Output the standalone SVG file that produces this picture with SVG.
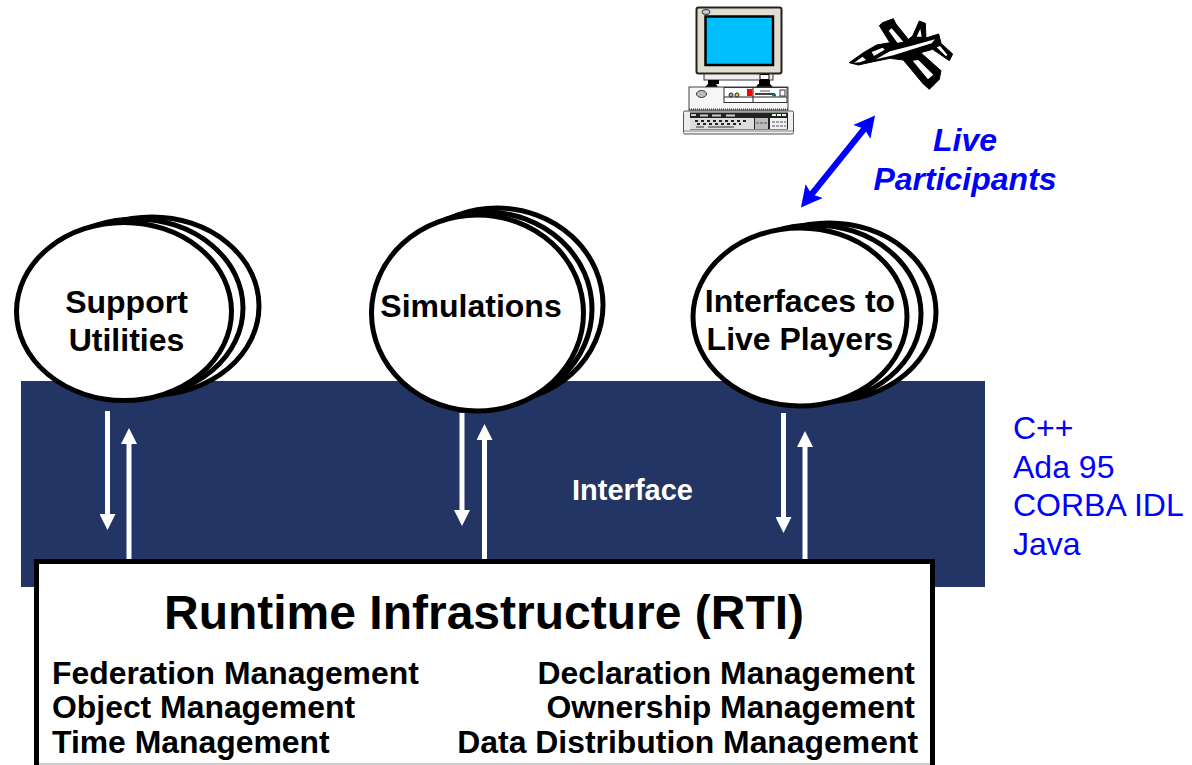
<svg xmlns="http://www.w3.org/2000/svg" width="1192" height="765" viewBox="0 0 1192 765">
<style>
text{font-family:"Liberation Sans",Arial,sans-serif}
.b{font-weight:700;fill:#000}
.e{fill:#fff;stroke:#000;stroke-width:5}
.w{stroke:#fff;stroke-width:5;fill:none}
.n{font-size:32px;text-anchor:middle}
.m{font-size:31.900px}
.l{font-size:32px;fill:#00f}
</style>
<defs>
<marker id="wh" markerUnits="userSpaceOnUse" markerWidth="16" markerHeight="16" refX="0" refY="8" orient="auto"><path d="M0 0L16 8L0 16Z" fill="#fff"/></marker>
<marker id="bl" markerUnits="userSpaceOnUse" markerWidth="22" markerHeight="24" refX="5" refY="12" orient="auto-start-reverse"><path d="M0 1L21 12L0 23L4 12Z" fill="#00f"/></marker>
</defs>
<rect width="1192" height="765" fill="#fff"/>
<g id="interface"><rect x="21" y="381" width="964" height="206" fill="#233565"/><text x="632.500" y="500" font-size="29" font-weight="700" fill="#fff" text-anchor="middle">Interface</text></g>
<g id="connectors">
<path class="w" d="M107.500 411V514" marker-end="url(#wh)"/>
<path class="w" d="M129 562V444" marker-end="url(#wh)"/>
<path class="w" d="M462 413V510" marker-end="url(#wh)"/>
<path class="w" d="M484.500 562V440" marker-end="url(#wh)"/>
<path class="w" d="M783.500 413V517" marker-end="url(#wh)"/>
<path class="w" d="M805 562V447" marker-end="url(#wh)"/>
<path d="M811 195L865 128" stroke="#00f" stroke-width="6" fill="none" marker-start="url(#bl)" marker-end="url(#bl)"/>
</g>
<g id="support-utilities">
<ellipse class="e" cx="152" cy="306" rx="107" ry="89"/><ellipse class="e" cx="136" cy="308" rx="107" ry="89"/><ellipse class="e" cx="124" cy="311.500" rx="107.500" ry="89"/>
<text class="b n" x="126.500" y="313">Support</text><text class="b n" x="126.500" y="351">Utilities</text>
</g>
<g id="simulations">
<ellipse class="e" cx="497" cy="305" rx="106" ry="97"/><ellipse class="e" cx="486" cy="309" rx="106" ry="97"/><ellipse class="e" cx="477.500" cy="313" rx="106" ry="98"/>
<text class="b n" x="471" y="317">Simulations</text>
</g>
<g id="interfaces">
<ellipse class="e" cx="829" cy="312" rx="107" ry="89"/><ellipse class="e" cx="814" cy="314" rx="107" ry="89"/><ellipse class="e" cx="800" cy="317" rx="107" ry="89"/>
<text class="b n" x="800" y="312">Interfaces to</text><text class="b n" x="800" y="350">Live Players</text>
</g>
<g id="rti">
<rect x="36.500" y="561.500" width="896" height="212" fill="#fff" stroke="#000" stroke-width="5"/>
<path d="M39 764H930" stroke="#bbb" stroke-width="1.500"/>
<text x="484" y="629" font-size="48" font-weight="700" text-anchor="middle">Runtime Infrastructure (RTI)</text>
<text class="b m" x="52" y="684">Federation Management</text>
<text class="b m" x="52" y="718">Object Management</text>
<text class="b m" x="52" y="753">Time Management</text>
<text class="b m" x="915" y="684" text-anchor="end">Declaration Management</text>
<text class="b m" x="915" y="718" text-anchor="end">Ownership Management</text>
<text class="b m" x="918" y="753" text-anchor="end">Data Distribution Management</text>
</g>
<g id="languages">
<text class="l" x="1013" y="439">C++</text><text class="l" x="1013" y="478">Ada 95</text><text class="l" x="1013" y="516">CORBA IDL</text><text class="l" x="1013" y="555">Java</text>
</g>
<g id="live-label" font-weight="700" font-style="italic" font-size="32" fill="#00f" text-anchor="middle">
<text x="965" y="151">Live</text><text x="965" y="190">Participants</text>
</g>
<g id="computer">
<rect x="696.500" y="7.500" width="85" height="66" rx="2" fill="#e0dcd0" stroke="#222" stroke-width="2"/>
<rect x="705.500" y="16.500" width="67.500" height="48.500" fill="#00bfff" stroke="#000" stroke-width="2.500"/>
<ellipse cx="706" cy="12" rx="4" ry="2.500" fill="#ccc" stroke="#333"/>
<rect x="704" y="74" width="69" height="6" fill="#eee" stroke="#333"/>
<path d="M760 74.500h9v5h-9z" fill="#fff" stroke="#000"/>
<path d="M708 80h11v4h-3l2 3h-13l3-3zM770 80h-11v4h-1l-2 3h17l-3-3z" fill="#000"/>
<rect x="689" y="87" width="99" height="23" fill="#f6f6f6" stroke="#444"/>
<rect x="724" y="87.500" width="63" height="15" fill="#fff" stroke="#333"/>
<path d="M724 97H787M753 88V102" stroke="#222"/>
<ellipse cx="701.500" cy="94" rx="5" ry="3.500" fill="#bbb" stroke="#333"/>
<rect x="747" y="89" width="5.500" height="7" fill="#f00"/>
<path d="M755 94h20" stroke="#000" stroke-width="1.500"/><path d="M760 91h10" stroke="#aaa" stroke-width="2"/><rect x="772" y="94" width="4" height="2.500" fill="#0a7a90"/><rect x="780" y="90" width="5" height="6" fill="#fff" stroke="#333"/>
<circle cx="731" cy="95" r="2" fill="#aaa" stroke="#222"/><circle cx="737" cy="95" r="2" fill="#dc3" stroke="#222"/>
<path d="M689 109.500H788" stroke="#444" stroke-width="2" stroke-dasharray="1 1"/>
<rect x="683.500" y="111" width="110" height="23" rx="1.500" fill="#eee" stroke="#555"/>
<path d="M684 131H793" stroke="#888"/>
<rect x="690" y="112.500" width="98" height="17" fill="#222"/>
<rect x="690" y="118" width="64" height="11" fill="#ddd"/>
<rect x="755" y="118" width="13" height="11" fill="#bbb"/><rect x="770" y="118" width="17" height="11" fill="#f0f0f0"/>
<path d="M691 115h5M700 115.500h8M712 115.500h9M726 115.500h9" stroke="#ccc" stroke-width="2"/>
<path d="M772 115h4M777 115h4M782 115h4" stroke="#dfd" stroke-width="2"/>
<path d="M695 121h54M697 124h44" stroke="#222" stroke-width="2" stroke-dasharray="3 3"/>
<path d="M756 123h11M772 122h14M772 126h14" stroke="#555" stroke-dasharray="3 1"/>
<path d="M696 127h8M708 127h26" stroke="#888" stroke-width="2"/>
</g>
<g id="jet" transform="translate(840 10) scale(.3333)">
<path d="M28 158L70 128L110 105L150 98L118 47L128 38L160 26L168 42L205 88L218 78L238 33L256 40L258 84L296 72L303 100L338 132L328 152L278 118L242 128L303 182L298 208L268 238L250 222L190 150L150 145L100 155L55 165Z" fill="#000" stroke="#000" stroke-width="3" stroke-linejoin="round"/>
<path d="M146 62L155 55L190 95L172 98ZM230 80L241 56L245 80ZM218 152L235 150L280 194L264 208ZM290 112L300 108L322 134L318 139ZM42 158L68 140L78 150L60 157ZM95 126L128 113L134 119L102 138Z" fill="#fff"/>
<path d="M108 148L150 124L212 108L285 88L275 100L210 120L160 136Z" fill="#fff"/>
</g>
</svg>
